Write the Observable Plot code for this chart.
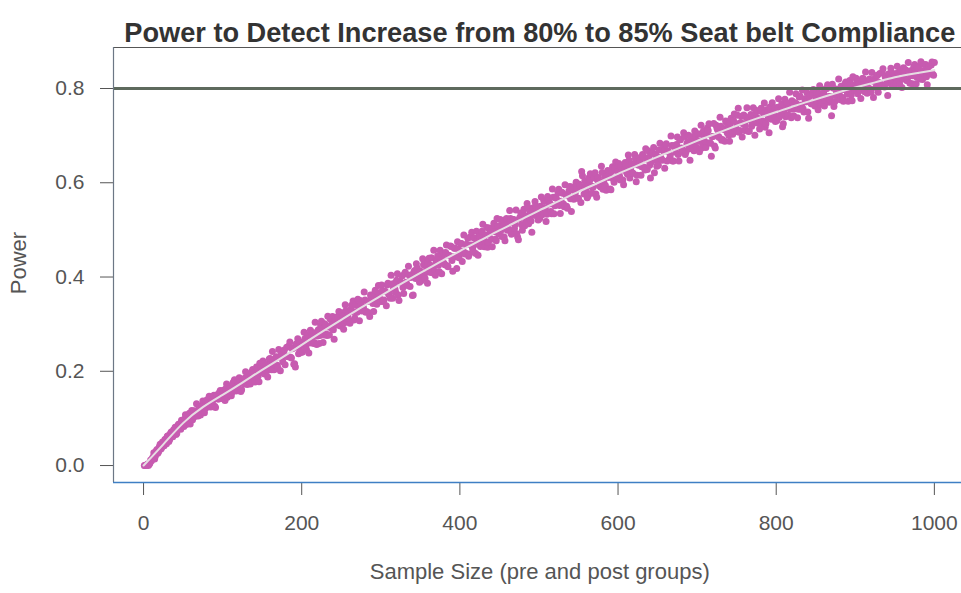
<!DOCTYPE html>
<html><head><meta charset="utf-8">
<script src="https://cdn.jsdelivr.net/npm/d3@7"></script>
<script src="https://cdn.jsdelivr.net/npm/@observablehq/plot@0.6"></script>
<style>body{margin:0;background:#fff;} #chart{width:961px;height:593px;overflow:hidden;}</style>
</head><body><div id="chart"></div>
<script>
const titleText = "Power to Detect Increase from 80% to 85% Seat belt Compliance";
const xLabel = "Sample Size (pre and post groups)";
const yLabel = "Power";
const xTicks = [0, 200, 400, 600, 800, 1000];
const yTicks = [0, 0.2, 0.4, 0.6, 0.8];
const xDomain = [-38, 1040];
const yDomain = [-0.036, 0.887];
const target = 0.8;

// even sample sizes
const sampleSize = [
  2,4,6,8,10,12,14,16,18,20,22,24,26,28,30,32,34,36,38,40,42,44,46,48,50,
  52,54,56,58,60,62,64,66,68,70,72,74,76,78,80,82,84,86,88,90,92,94,96,98,100,
  102,104,106,108,110,112,114,116,118,120,122,124,126,128,130,132,134,136,138,140,142,144,146,148,150,
  152,154,156,158,160,162,164,166,168,170,172,174,176,178,180,182,184,186,188,190,192,194,196,198,200,
  202,204,206,208,210,212,214,216,218,220,222,224,226,228,230,232,234,236,238,240,242,244,246,248,250,
  252,254,256,258,260,262,264,266,268,270,272,274,276,278,280,282,284,286,288,290,292,294,296,298,300,
  302,304,306,308,310,312,314,316,318,320,322,324,326,328,330,332,334,336,338,340,342,344,346,348,350,
  352,354,356,358,360,362,364,366,368,370,372,374,376,378,380,382,384,386,388,390,392,394,396,398,400,
  402,404,406,408,410,412,414,416,418,420,422,424,426,428,430,432,434,436,438,440,442,444,446,448,450,
  452,454,456,458,460,462,464,466,468,470,472,474,476,478,480,482,484,486,488,490,492,494,496,498,500,
  502,504,506,508,510,512,514,516,518,520,522,524,526,528,530,532,534,536,538,540,542,544,546,548,550,
  552,554,556,558,560,562,564,566,568,570,572,574,576,578,580,582,584,586,588,590,592,594,596,598,600,
  602,604,606,608,610,612,614,616,618,620,622,624,626,628,630,632,634,636,638,640,642,644,646,648,650,
  652,654,656,658,660,662,664,666,668,670,672,674,676,678,680,682,684,686,688,690,692,694,696,698,700,
  702,704,706,708,710,712,714,716,718,720,722,724,726,728,730,732,734,736,738,740,742,744,746,748,750,
  752,754,756,758,760,762,764,766,768,770,772,774,776,778,780,782,784,786,788,790,792,794,796,798,800,
  802,804,806,808,810,812,814,816,818,820,822,824,826,828,830,832,834,836,838,840,842,844,846,848,850,
  852,854,856,858,860,862,864,866,868,870,872,874,876,878,880,882,884,886,888,890,892,894,896,898,900,
  902,904,906,908,910,912,914,916,918,920,922,924,926,928,930,932,934,936,938,940,942,944,946,948,950,
  952,954,956,958,960,962,964,966,968,970,972,974,976,978,980,982,984,986,988,990,992,994,996,998,1000
];

const power = [
  0.000,0.001,0.000,0.005,0.010,0.018,0.014,0.031,0.026,0.040,0.035,0.050,0.042,0.056,0.062,0.051,0.068,0.063,0.076,0.081,0.068,0.087,0.079,0.096,0.087,
  0.099,0.087,0.100,0.111,0.100,0.097,0.116,0.112,0.112,0.125,0.107,0.127,0.126,0.121,0.139,0.129,0.125,0.140,0.139,0.126,0.148,0.141,0.155,0.143,0.153,
  0.148,0.163,0.145,0.160,0.167,0.156,0.178,0.165,0.161,0.175,0.183,0.161,0.176,0.185,0.176,0.194,0.176,0.190,0.204,0.185,0.191,0.205,0.178,0.206,0.201,
  0.216,0.204,0.201,0.216,0.227,0.203,0.219,0.214,0.231,0.207,0.230,0.235,0.220,0.245,0.232,0.232,0.254,0.230,0.248,0.215,0.209,0.251,0.237,0.262,0.255,
  0.256,0.269,0.246,0.277,0.260,0.273,0.282,0.261,0.282,0.275,0.259,0.297,0.289,0.277,0.298,0.276,0.294,0.311,0.291,0.288,0.309,0.299,0.317,0.299,0.312,
  0.317,0.303,0.329,0.316,0.306,0.331,0.327,0.309,0.340,0.325,0.339,0.350,0.328,0.336,0.351,0.327,0.349,0.316,0.358,0.344,0.365,0.345,0.357,0.366,0.348,
  0.371,0.351,0.369,0.383,0.363,0.355,0.385,0.376,0.374,0.393,0.362,0.391,0.388,0.378,0.407,0.389,0.382,0.404,0.399,0.361,0.411,0.397,0.419,0.399,0.413,
  0.405,0.426,0.397,0.418,0.429,0.410,0.441,0.422,0.413,0.433,0.445,0.411,0.432,0.443,0.429,0.452,0.424,0.446,0.466,0.435,0.443,0.461,0.418,0.460,0.451,
  0.471,0.455,0.449,0.469,0.482,0.449,0.468,0.461,0.483,0.450,0.479,0.486,0.465,0.497,0.479,0.476,0.505,0.473,0.494,0.480,0.505,0.496,0.477,0.508,0.498,
  0.499,0.513,0.485,0.522,0.499,0.514,0.524,0.498,0.522,0.512,0.492,0.479,0.527,0.511,0.536,0.509,0.529,0.548,0.524,0.519,0.544,0.531,0.551,0.529,0.545,
  0.550,0.532,0.563,0.546,0.533,0.562,0.556,0.534,0.569,0.551,0.567,0.579,0.552,0.561,0.578,0.549,0.574,0.546,0.583,0.566,0.591,0.565,0.579,0.589,0.567,
  0.593,0.624,0.590,0.604,0.582,0.572,0.604,0.593,0.590,0.610,0.576,0.606,0.603,0.591,0.622,0.601,0.594,0.616,0.611,0.587,0.624,0.608,0.632,0.609,0.624,
  0.614,0.635,0.606,0.627,0.637,0.618,0.648,0.629,0.620,0.639,0.651,0.616,0.637,0.647,0.634,0.656,0.627,0.649,0.668,0.637,0.644,0.663,0.621,0.660,0.651,
  0.670,0.654,0.648,0.667,0.680,0.646,0.666,0.658,0.679,0.646,0.675,0.681,0.660,0.691,0.674,0.670,0.698,0.666,0.687,0.672,0.697,0.687,0.668,0.699,0.688,
  0.688,0.703,0.674,0.710,0.687,0.702,0.711,0.685,0.656,0.698,0.678,0.722,0.712,0.696,0.720,0.692,0.713,0.731,0.706,0.701,0.726,0.712,0.732,0.709,0.725,
  0.758,0.711,0.741,0.725,0.711,0.739,0.733,0.710,0.745,0.727,0.742,0.754,0.727,0.736,0.752,0.722,0.747,0.718,0.755,0.737,0.761,0.735,0.748,0.759,0.736,
  0.760,0.739,0.756,0.719,0.749,0.740,0.769,0.759,0.756,0.774,0.742,0.770,0.767,0.756,0.784,0.765,0.757,0.778,0.772,0.750,0.783,0.768,0.789,0.768,0.781,
  0.773,0.790,0.766,0.783,0.791,0.775,0.800,0.783,0.776,0.742,0.801,0.772,0.789,0.798,0.786,0.805,0.781,0.798,0.814,0.788,0.794,0.809,0.774,0.807,0.799,
  0.815,0.801,0.796,0.811,0.821,0.793,0.809,0.802,0.820,0.792,0.816,0.820,0.802,0.828,0.813,0.810,0.834,0.806,0.824,0.812,0.831,0.823,0.807,0.832,0.823,
  0.823,0.834,0.810,0.839,0.820,0.832,0.839,0.817,0.836,0.827,0.810,0.846,0.837,0.824,0.843,0.820,0.836,0.851,0.829,0.825,0.845,0.833,0.850,0.830,0.855
];

// odd sample sizes
const sampleSizeOdd = [
  1,3,5,7,9,11,13,15,17,19,21,23,25,27,29,31,33,35,37,39,41,43,45,47,49,
  51,53,55,57,59,61,63,65,67,69,71,73,75,77,79,81,83,85,87,89,91,93,95,97,99,
  101,103,105,107,109,111,113,115,117,119,121,123,125,127,129,131,133,135,137,139,141,143,145,147,149,
  151,153,155,157,159,161,163,165,167,169,171,173,175,177,179,181,183,185,187,189,191,193,195,197,199,
  201,203,205,207,209,211,213,215,217,219,221,223,225,227,229,231,233,235,237,239,241,243,245,247,249,
  251,253,255,257,259,261,263,265,267,269,271,273,275,277,279,281,283,285,287,289,291,293,295,297,299,
  301,303,305,307,309,311,313,315,317,319,321,323,325,327,329,331,333,335,337,339,341,343,345,347,349,
  351,353,355,357,359,361,363,365,367,369,371,373,375,377,379,381,383,385,387,389,391,393,395,397,399,
  401,403,405,407,409,411,413,415,417,419,421,423,425,427,429,431,433,435,437,439,441,443,445,447,449,
  451,453,455,457,459,461,463,465,467,469,471,473,475,477,479,481,483,485,487,489,491,493,495,497,499,
  501,503,505,507,509,511,513,515,517,519,521,523,525,527,529,531,533,535,537,539,541,543,545,547,549,
  551,553,555,557,559,561,563,565,567,569,571,573,575,577,579,581,583,585,587,589,591,593,595,597,599,
  601,603,605,607,609,611,613,615,617,619,621,623,625,627,629,631,633,635,637,639,641,643,645,647,649,
  651,653,655,657,659,661,663,665,667,669,671,673,675,677,679,681,683,685,687,689,691,693,695,697,699,
  701,703,705,707,709,711,713,715,717,719,721,723,725,727,729,731,733,735,737,739,741,743,745,747,749,
  751,753,755,757,759,761,763,765,767,769,771,773,775,777,779,781,783,785,787,789,791,793,795,797,799,
  801,803,805,807,809,811,813,815,817,819,821,823,825,827,829,831,833,835,837,839,841,843,845,847,849,
  851,853,855,857,859,861,863,865,867,869,871,873,875,877,879,881,883,885,887,889,891,893,895,897,899,
  901,903,905,907,909,911,913,915,917,919,921,923,925,927,929,931,933,935,937,939,941,943,945,947,949,
  951,953,955,957,959,961,963,965,967,969,971,973,975,977,979,981,983,985,987,989,991,993,995,997,999
];

const powerOdd = [
  0.000,0.000,0.003,0.002,0.012,0.015,0.027,0.020,0.034,0.029,0.045,0.038,0.049,0.055,0.046,0.063,0.055,0.071,0.061,0.074,0.066,0.084,0.088,0.077,0.092,
  0.083,0.108,0.093,0.107,0.088,0.117,0.110,0.104,0.131,0.105,0.124,0.119,0.137,0.112,0.136,0.124,0.147,0.124,0.138,0.149,0.123,0.150,0.141,0.159,0.142,
  0.160,0.138,0.173,0.151,0.163,0.148,0.175,0.182,0.158,0.168,0.186,0.157,0.183,0.173,0.199,0.172,0.188,0.173,0.199,0.196,0.177,0.209,0.190,0.217,0.198,
  0.222,0.194,0.212,0.188,0.226,0.210,0.242,0.203,0.228,0.213,0.246,0.201,0.231,0.243,0.214,0.251,0.231,0.262,0.228,0.250,0.216,0.258,0.269,0.250,0.240,
  0.241,0.283,0.254,0.276,0.239,0.287,0.274,0.259,0.304,0.257,0.288,0.276,0.306,0.261,0.301,0.279,0.317,0.277,0.298,0.316,0.268,0.314,0.298,0.327,0.296,
  0.324,0.289,0.341,0.307,0.323,0.302,0.340,0.349,0.313,0.326,0.353,0.307,0.345,0.330,0.368,0.325,0.348,0.324,0.362,0.357,0.327,0.372,0.342,0.382,0.354,
  0.383,0.348,0.370,0.339,0.387,0.365,0.404,0.355,0.386,0.367,0.407,0.350,0.388,0.402,0.365,0.410,0.384,0.423,0.380,0.405,0.362,0.414,0.428,0.402,0.389,
  0.392,0.439,0.405,0.429,0.387,0.440,0.425,0.409,0.457,0.404,0.438,0.425,0.457,0.407,0.451,0.426,0.468,0.422,0.445,0.465,0.412,0.461,0.443,0.475,0.441,
  0.471,0.433,0.489,0.451,0.469,0.444,0.485,0.495,0.454,0.469,0.497,0.446,0.488,0.471,0.512,0.464,0.489,0.463,0.504,0.498,0.464,0.514,0.480,0.524,0.492,
  0.522,0.486,0.508,0.477,0.524,0.502,0.541,0.491,0.522,0.503,0.542,0.485,0.523,0.536,0.499,0.544,0.517,0.556,0.513,0.538,0.495,0.547,0.560,0.534,0.521,
  0.524,0.570,0.537,0.560,0.518,0.571,0.555,0.539,0.587,0.534,0.568,0.554,0.586,0.535,0.580,0.555,0.596,0.550,0.572,0.592,0.539,0.588,0.570,0.601,0.567,
  0.597,0.558,0.615,0.576,0.594,0.568,0.610,0.619,0.578,0.592,0.621,0.569,0.611,0.593,0.635,0.586,0.611,0.584,0.626,0.619,0.585,0.634,0.601,0.644,0.612,
  0.641,0.606,0.627,0.596,0.643,0.621,0.659,0.610,0.640,0.620,0.660,0.602,0.640,0.653,0.616,0.660,0.633,0.672,0.628,0.654,0.610,0.662,0.675,0.648,0.635,
  0.637,0.684,0.650,0.673,0.631,0.683,0.668,0.651,0.699,0.646,0.679,0.665,0.697,0.646,0.691,0.665,0.706,0.660,0.682,0.701,0.648,0.697,0.678,0.710,0.675,
  0.704,0.666,0.722,0.683,0.700,0.675,0.716,0.725,0.684,0.698,0.726,0.674,0.716,0.698,0.739,0.690,0.715,0.688,0.729,0.722,0.688,0.737,0.703,0.746,0.714,
  0.743,0.707,0.728,0.697,0.744,0.721,0.759,0.709,0.739,0.720,0.759,0.701,0.739,0.752,0.714,0.758,0.731,0.769,0.725,0.750,0.706,0.757,0.770,0.744,0.730,
  0.732,0.778,0.744,0.767,0.725,0.777,0.761,0.744,0.792,0.738,0.771,0.757,0.789,0.738,0.782,0.756,0.797,0.750,0.772,0.791,0.737,0.786,0.767,0.798,0.763,
  0.791,0.755,0.806,0.771,0.786,0.763,0.800,0.808,0.771,0.783,0.809,0.762,0.799,0.783,0.820,0.776,0.798,0.773,0.810,0.804,0.773,0.817,0.786,0.825,0.796,
  0.822,0.789,0.809,0.779,0.821,0.801,0.835,0.790,0.817,0.799,0.834,0.781,0.815,0.827,0.792,0.832,0.808,0.842,0.803,0.825,0.785,0.831,0.843,0.818,0.806,
  0.810,0.847,0.819,0.837,0.802,0.844,0.831,0.817,0.855,0.811,0.838,0.827,0.851,0.810,0.846,0.824,0.857,0.819,0.837,0.851,0.808,0.847,0.831,0.856,0.828
];

// smooth fitted curve
const fitSize = [0,25,50,75,100,125,150,175,200,225,250,275,300,325,350,375,400,425,450,475,500,525,550,575,600,625,650,675,700,725,750,775,800,825,850,875,900,925,950,975,1000];
const fitPower = [0.000,0.045,0.090,0.124,0.150,0.176,0.203,0.229,0.256,0.283,0.309,0.335,0.360,0.385,0.409,0.432,0.455,0.477,0.499,0.520,0.541,0.561,0.581,0.600,0.619,0.637,0.655,0.672,0.689,0.705,0.721,0.736,0.750,0.764,0.777,0.790,0.802,0.813,0.824,0.832,0.839];

const points = sampleSize.map((n, i) => ({n, p: power[i]}))
  .concat(sampleSizeOdd.map((n, i) => ({n, p: powerOdd[i]})))
  .sort((a, b) => a.n - b.n);
const fit = fitSize.map((n, i) => ({n, p: fitPower[i]}));

const chart = Plot.plot({
  width: 961, height: 593,
  marginLeft: 113, marginRight: -4.5, marginTop: 47, marginBottom: 111,
  style: {fontFamily: "'Liberation Sans', Arial, sans-serif", fontSize: "21px", color: "#555", background: "#fff", overflow: "hidden"},
  x: {domain: xDomain, ticks: xTicks, tickSize: 13, tickPadding: 20, label: null, tickFormat: d => String(d)},
  y: {domain: yDomain, ticks: yTicks, tickSize: 13, tickPadding: 16, label: null, tickFormat: d3.format(".1f")},
  marks: [
    Plot.dot(points, {x: "n", y: "p", r: 3.5, fill: "#c75bb0", stroke: null}),
    Plot.line(fit, {x: "n", y: "p", stroke: "#e6dde3", strokeWidth: 2, curve: "natural"}),
    Plot.ruleY([target], {stroke: "#5e6a5d", strokeWidth: 3}),
    Plot.ruleY([yDomain[1]], {stroke: "#555", strokeWidth: 1.2}),
    Plot.ruleX([xDomain[0]], {stroke: "#6c7785", strokeWidth: 1.2}),
    Plot.ruleY([yDomain[0]], {stroke: "#3f7fc4", strokeWidth: 1.4}),
    Plot.text([titleText], {frameAnchor: "top", dy: -25, fontSize: 27.2, fontWeight: "bold", fill: "#333"}),
    Plot.text([xLabel], {frameAnchor: "bottom", dy: 96, fontSize: 22, fill: "#555"}),
    Plot.text([yLabel], {frameAnchor: "left", dx: -95, dy: -2, rotate: -90, textAnchor: "middle", fontSize: 22, fill: "#555"})
  ]
});
document.getElementById("chart").appendChild(chart);
</script>
</body></html>
